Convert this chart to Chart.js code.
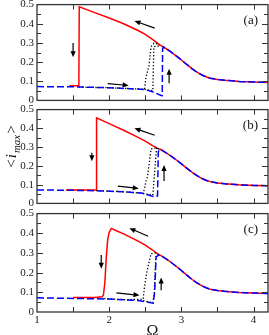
<!DOCTYPE html>
<html>
<head>
<meta charset="utf-8">
<script src="https://cdn.jsdelivr.net/npm/chart.js@4.4.1/dist/chart.umd.min.js"></script>
<style>
  html, body { margin: 0; padding: 0; background: #fff; }
  body { width: 269px; height: 335px; position: relative; overflow: hidden; }
  canvas { position: absolute; left: 0; }
</style>
</head>
<body>
<canvas id="chartA" width="269" height="115" style="top:-5px"></canvas>
<canvas id="chartB" width="269" height="113" style="top:100px"></canvas>
<canvas id="chartC" width="269" height="137" style="top:204px"></canvas>
<script>
// tick labels
const xTicks = [1, 2, 3, 4];
const yTicks = [0, 0.1, 0.2, 0.3, 0.4, 0.5];

// common high-frequency branch (same for all panels)
const tailX = [2.75, 2.8, 2.85, 2.9, 2.95, 3.0, 3.05, 3.1, 3.15, 3.2, 3.25, 3.3, 3.35, 3.4, 3.5, 3.6, 3.7, 3.8, 4.0, 4.2];
const tailY = [0.279, 0.267, 0.254, 0.240, 0.226, 0.211, 0.195, 0.180, 0.165, 0.152, 0.140, 0.130, 0.122, 0.116, 0.109, 0.105, 0.102, 0.099, 0.096, 0.094];

// panel (a)
const redAX = [1.45, 1.58, 1.585, 1.8, 2.0, 2.2, 2.4, 2.5, 2.6, 2.65, 2.7];
const redAY = [0.077, 0.077, 0.488, 0.458, 0.430, 0.400, 0.365, 0.345, 0.318, 0.304, 0.290];
const blueAX = [1.0, 1.5, 2.0, 2.3, 2.5, 2.6, 2.72, 2.735, 2.74];
const blueAY = [0.072, 0.071, 0.066, 0.061, 0.056, 0.045, 0.026, 0.025, 0.270];
const dotA1X = [1.58, 2.0, 2.3, 2.49, 2.5, 2.51, 2.55, 2.58, 2.62, 2.66, 2.7];
const dotA1Y = [0.069, 0.066, 0.061, 0.058, 0.090, 0.120, 0.180, 0.280, 0.298, 0.296, 0.290];
const dotA2X = [2.49, 2.605, 2.61, 2.62, 2.66, 2.69];
const dotA2Y = [0.058, 0.050, 0.150, 0.280, 0.283, 0.284];

// panel (b)
const redBX = [1.4, 1.82, 1.825, 2.0, 2.2, 2.4, 2.5, 2.6, 2.68, 2.7];
const redBY = [0.072, 0.072, 0.456, 0.425, 0.390, 0.352, 0.332, 0.308, 0.292, 0.290];
const blueBX = [1.0, 1.8, 2.2, 2.45, 2.63, 2.67, 2.68, 2.7];
const blueBY = [0.072, 0.068, 0.062, 0.055, 0.035, 0.040, 0.275, 0.290];
const dotB1X = [1.82, 2.2, 2.47, 2.49, 2.51, 2.53, 2.58, 2.64, 2.7];
const dotB1Y = [0.068, 0.062, 0.053, 0.080, 0.120, 0.140, 0.290, 0.295, 0.290];
const dotB2X = [2.47, 2.605, 2.62, 2.655, 2.69];
const dotB2Y = [0.053, 0.044, 0.120, 0.293, 0.288];

// panel (c)
const redCX = [1.5, 1.8, 1.9, 1.92, 1.94, 1.96, 1.98, 2.0, 2.03, 2.1, 2.2, 2.4, 2.5, 2.6, 2.68, 2.7];
const redCY = [0.074, 0.074, 0.077, 0.085, 0.150, 0.280, 0.370, 0.405, 0.425, 0.413, 0.397, 0.360, 0.340, 0.315, 0.293, 0.290];
const blueCX = [1.0, 2.0, 2.4, 2.61, 2.63, 2.65, 2.68, 2.7];
const blueCY = [0.072, 0.066, 0.058, 0.045, 0.100, 0.280, 0.288, 0.290];
const dotC1X = [1.93, 2.2, 2.47, 2.49, 2.52, 2.58, 2.64, 2.7];
const dotC1Y = [0.068, 0.063, 0.064, 0.130, 0.200, 0.297, 0.300, 0.290];
const dotC2X = [2.47, 2.605, 2.625, 2.645, 2.68];
const dotC2Y = [0.058, 0.046, 0.100, 0.280, 0.290];

// arrows [x1, y1, x2, y2] in data units
const arrowsA = [[1.5, 0.30, 1.5, 0.225], [2.63, 0.377, 2.35, 0.415], [1.98, 0.088, 2.27, 0.078], [2.83, 0.09, 2.83, 0.165]];
const arrowsB = [[1.76, 0.27, 1.76, 0.225], [2.63, 0.363, 2.35, 0.40], [2.12, 0.092, 2.41, 0.08], [2.76, 0.12, 2.76, 0.205]];
const arrowsC = [[1.89, 0.29, 1.89, 0.22], [2.54, 0.385, 2.28, 0.426], [2.10, 0.097, 2.42, 0.085], [2.72, 0.11, 2.72, 0.175]];

function pts(xs, ys) {
  return xs.map((x, i) => ({ x: x, y: ys[i] }));
}

// frame, inward ticks, arrows, panel letter
const framePlugin = {
  id: 'frame',
  afterDatasetsDraw(chart, args, opts) {
    const ctx = chart.ctx;
    const a = chart.chartArea;
    const xs = chart.scales.x, ys = chart.scales.y;
    ctx.save();
    ctx.strokeStyle = '#333';
    ctx.lineWidth = 1.3;
    ctx.strokeRect(a.left, a.top, a.right - a.left, a.bottom - a.top);
    ctx.lineWidth = 1;
    ctx.beginPath();
    for (let v = 1.5; v < 4.2; v += 0.5) {
      const px = Math.round(xs.getPixelForValue(v)) + 0.5;
      ctx.moveTo(px, a.bottom); ctx.lineTo(px, a.bottom - 5);
      ctx.moveTo(px, a.top); ctx.lineTo(px, a.top + 5);
    }
    for (let k = 1; k < 10; k++) {
      const py = Math.round(ys.getPixelForValue(k * 0.05)) + 0.5;
      const len = k % 2 === 0 ? 6 : 4;
      ctx.moveTo(a.left, py); ctx.lineTo(a.left + len, py);
      ctx.moveTo(a.right, py); ctx.lineTo(a.right - len, py);
    }
    ctx.stroke();

    // arrows
    ctx.strokeStyle = '#000';
    ctx.fillStyle = '#000';
    ctx.lineWidth = 1.2;
    opts.arrows.forEach(ar => {
      const x1 = xs.getPixelForValue(ar[0]), y1 = ys.getPixelForValue(ar[1]);
      const x2 = xs.getPixelForValue(ar[2]), y2 = ys.getPixelForValue(ar[3]);
      const ang = Math.atan2(y2 - y1, x2 - x1);
      const hl = 6, hw = 2.6;
      ctx.beginPath();
      ctx.moveTo(x1, y1);
      ctx.lineTo(x2 - hl * 0.8 * Math.cos(ang), y2 - hl * 0.8 * Math.sin(ang));
      ctx.stroke();
      ctx.beginPath();
      ctx.moveTo(x2, y2);
      ctx.lineTo(x2 - hl * Math.cos(ang) + hw * Math.sin(ang), y2 - hl * Math.sin(ang) - hw * Math.cos(ang));
      ctx.lineTo(x2 - hl * Math.cos(ang) - hw * Math.sin(ang), y2 - hl * Math.sin(ang) + hw * Math.cos(ang));
      ctx.closePath();
      ctx.fill();
    });

    // panel letter
    ctx.font = '13px "Liberation Serif", "DejaVu Serif", serif';
    ctx.fillStyle = '#111';
    ctx.textAlign = 'right';
    ctx.textBaseline = 'middle';
    ctx.fillText(opts.letter, a.right - 10, a.top + 16);

    // y axis title on middle panel
    if (opts.yTitle) {
      ctx.translate(16, 46);
      ctx.rotate(-Math.PI / 2);
      ctx.textAlign = 'left';
      ctx.textBaseline = 'alphabetic';
      const big = '15px "Liberation Serif", serif';
      const bigI = 'italic 15px "Liberation Serif", serif';
      const small = 'italic 11px "Liberation Serif", serif';
      const parts = [['<', big, 0], ['i', bigI, 0], ['max', small, 3.5], ['>', big, 0]];
      let w = 0;
      parts.forEach(p => { ctx.font = p[1]; w += ctx.measureText(p[0]).width + 1; });
      let x = -w / 2;
      parts.forEach(p => {
        ctx.font = p[1];
        ctx.fillText(p[0], x, p[2]);
        x += ctx.measureText(p[0]).width + 1;
      });
    }
    ctx.restore();
  }
};

const tickFont = { family: '"Liberation Serif", "DejaVu Serif", serif', size: 11 };

function makeChart(id, red, blue, dot1, dot2, arrows, letter, showX, yTitle) {
  const ctx = document.getElementById(id).getContext('2d');
  return new Chart(ctx, {
    type: 'line',
    data: {
      datasets: [
        { data: blue, borderColor: '#0000ff', borderWidth: 1.5, borderDash: [7, 3] },
        { data: dot1, borderColor: '#000', borderWidth: 1.3, borderDash: [1.3, 2] },
        { data: dot2, borderColor: '#000', borderWidth: 1.3, borderDash: [1.3, 2] },
        { data: red, borderColor: '#ff0000', borderWidth: 1.5 }
      ]
    },
    options: {
      responsive: false,
      animation: false,
      events: [],
      elements: { point: { radius: 0 }, line: { tension: 0, fill: false } },
      layout: { padding: { left: 0, right: 1, top: 0, bottom: 0 } },
      plugins: {
        legend: { display: false },
        tooltip: { enabled: false },
        frame: { arrows: arrows, letter: letter, yTitle: yTitle }
      },
      scales: {
        x: {
          type: 'linear',
          min: 1, max: 4.2,
          display: showX,
          grid: { display: false, drawTicks: false },
          border: { display: false },
          afterBuildTicks: s => { s.ticks = xTicks.map(v => ({ value: v })); },
          afterFit: s => { s.height = showX ? 29 : 0; },
          ticks: { font: tickFont, color: '#222', padding: 2, maxRotation: 0, autoSkip: false },
          title: { display: showX, text: 'Ω', font: { family: '"Liberation Serif", serif', size: 16 }, color: '#111', padding: 0 }
        },
        y: {
          min: 0, max: 0.5,
          grid: { display: false, drawTicks: false },
          border: { display: false },
          afterBuildTicks: s => { s.ticks = yTicks.map(v => ({ value: v })); },
          afterFit: s => { s.width = 37; },
          ticks: { font: tickFont, color: '#222', padding: 3, autoSkip: false, callback: v => v === 0 ? '0' : v.toFixed(1) }
        }
      }
    },
    plugins: [framePlugin]
  });
}

makeChart('chartA', pts(redAX.concat(tailX), redAY.concat(tailY)), pts(blueAX.concat(tailX), blueAY.concat(tailY)),
  pts(dotA1X, dotA1Y), pts(dotA2X, dotA2Y), arrowsA, '(a)', false, false);
makeChart('chartB', pts(redBX.concat(tailX), redBY.concat(tailY)), pts(blueBX.concat(tailX), blueBY.concat(tailY)),
  pts(dotB1X, dotB1Y), pts(dotB2X, dotB2Y), arrowsB, '(b)', false, true);
makeChart('chartC', pts(redCX.concat(tailX), redCY.concat(tailY)), pts(blueCX.concat(tailX), blueCY.concat(tailY)),
  pts(dotC1X, dotC1Y), pts(dotC2X, dotC2Y), arrowsC, '(c)', true, false);
</script>
</body>
</html>
